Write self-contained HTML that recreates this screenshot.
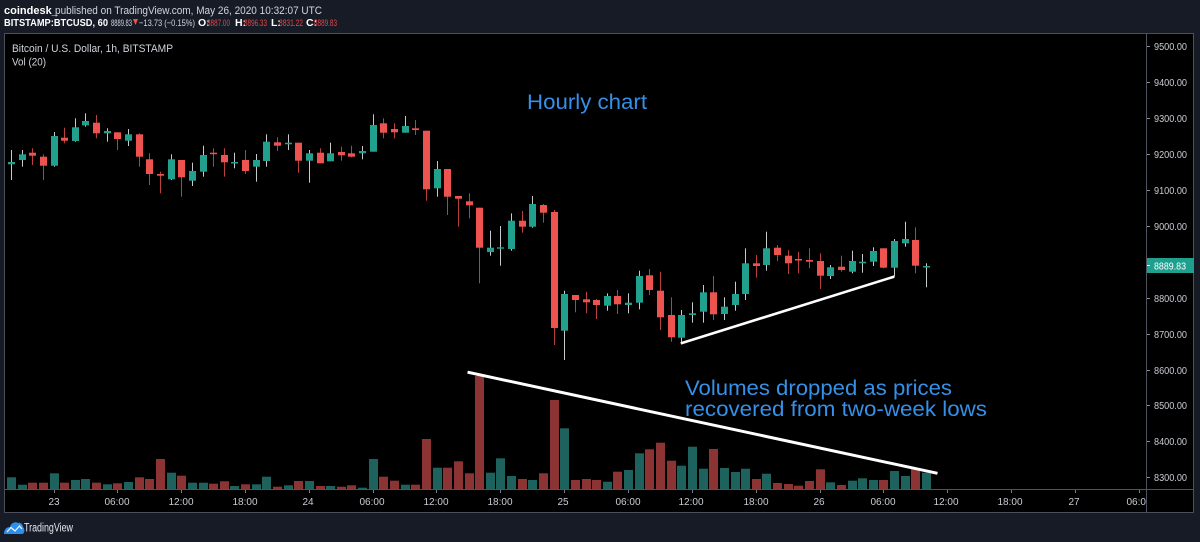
<!DOCTYPE html>
<html><head><meta charset="utf-8"><style>
html,body{margin:0;padding:0;background:#171b26;}
svg{display:block;font-family:"Liberation Sans",Arial,sans-serif;}
.gw{fill:#c4c9c9}.gb{fill:#22a08e}.rw{fill:#b8403e}.rb{fill:#ef5350}
.gv{fill:#1d625c}.rv{fill:#8c3434}
.pl{font-size:10px;fill:#c9ccd3}
.tl{font-size:10px;fill:#c9ccd3;text-anchor:middle}
</style></head><body>
<svg width="1200" height="542" viewBox="0 0 1200 542" xmlns="http://www.w3.org/2000/svg">
<rect width="1200" height="542" fill="#171b26"/>
<!-- header -->
<text x="4" y="14" font-size="11" fill="#d1d4dc"><tspan font-weight="bold" fill="#ffffff">coindesk_</tspan></text>
<text x="55" y="14" font-size="11" fill="#d1d4dc" textLength="267" lengthAdjust="spacingAndGlyphs">published on TradingView.com, May 26, 2020 10:32:07 UTC</text>
<text x="4" y="26" font-size="10.5" font-weight="bold" fill="#ffffff" textLength="104" lengthAdjust="spacingAndGlyphs">BITSTAMP:BTCUSD, 60</text>
<text x="111" y="26" font-size="9.5" fill="#d1d4dc" textLength="21" lengthAdjust="spacingAndGlyphs">8889.83</text>
<polygon points="133,19 138,19 135.5,25" fill="#ef5350"/>
<text x="139" y="26" font-size="9.5" fill="#d1d4dc" textLength="56" lengthAdjust="spacingAndGlyphs">−13.73 (−0.15%)</text>
<text x="198" y="26" font-size="10.5" font-weight="bold" fill="#fff">O:</text>
<text x="207" y="26" font-size="9.5" fill="#e0484a" textLength="23" lengthAdjust="spacingAndGlyphs">8887.00</text>
<text x="235" y="26" font-size="10.5" font-weight="bold" fill="#fff">H:</text>
<text x="244" y="26" font-size="9.5" fill="#e0484a" textLength="23" lengthAdjust="spacingAndGlyphs">8896.33</text>
<text x="271" y="26" font-size="10.5" font-weight="bold" fill="#fff">L:</text>
<text x="279" y="26" font-size="9.5" fill="#e0484a" textLength="24" lengthAdjust="spacingAndGlyphs">8831.22</text>
<text x="306" y="26" font-size="10.5" font-weight="bold" fill="#fff">C:</text>
<text x="314" y="26" font-size="9.5" fill="#e0484a" textLength="23" lengthAdjust="spacingAndGlyphs">8889.83</text>
<!-- chart frame -->
<rect x="4.5" y="33.5" width="1189" height="479" fill="#000" stroke="#4b4f5a"/>
<line x1="1146.5" y1="34" x2="1146.5" y2="512" stroke="#50545e"/>
<line x1="5" y1="489.5" x2="1193" y2="489.5" stroke="#50545e"/>
<text x="12" y="52" font-size="11" fill="#d1d4dc" textLength="161" lengthAdjust="spacingAndGlyphs">Bitcoin / U.S. Dollar, 1h, BITSTAMP</text>
<text x="12" y="65.5" font-size="11" fill="#d1d4dc" textLength="34" lengthAdjust="spacingAndGlyphs">Vol (20)</text>
<!-- price axis -->
<g fill="#8a8e98">
<rect x="1147" y="46" width="3" height="1"/><rect x="1147" y="82" width="3" height="1"/><rect x="1147" y="118" width="3" height="1"/><rect x="1147" y="154" width="3" height="1"/><rect x="1147" y="190" width="3" height="1"/><rect x="1147" y="226" width="3" height="1"/><rect x="1147" y="298" width="3" height="1"/><rect x="1147" y="334" width="3" height="1"/><rect x="1147" y="370" width="3" height="1"/><rect x="1147" y="405" width="3" height="1"/><rect x="1147" y="441" width="3" height="1"/><rect x="1147" y="477" width="3" height="1"/>
</g>
<text class="pl" x="1154" y="50" textLength="33" lengthAdjust="spacingAndGlyphs">9500.00</text>
<text class="pl" x="1154" y="86" textLength="33" lengthAdjust="spacingAndGlyphs">9400.00</text>
<text class="pl" x="1154" y="122" textLength="33" lengthAdjust="spacingAndGlyphs">9300.00</text>
<text class="pl" x="1154" y="158" textLength="33" lengthAdjust="spacingAndGlyphs">9200.00</text>
<text class="pl" x="1154" y="194" textLength="33" lengthAdjust="spacingAndGlyphs">9100.00</text>
<text class="pl" x="1154" y="230" textLength="33" lengthAdjust="spacingAndGlyphs">9000.00</text>
<text class="pl" x="1154" y="302" textLength="33" lengthAdjust="spacingAndGlyphs">8800.00</text>
<text class="pl" x="1154" y="338" textLength="33" lengthAdjust="spacingAndGlyphs">8700.00</text>
<text class="pl" x="1154" y="374" textLength="33" lengthAdjust="spacingAndGlyphs">8600.00</text>
<text class="pl" x="1154" y="409" textLength="33" lengthAdjust="spacingAndGlyphs">8500.00</text>
<text class="pl" x="1154" y="445" textLength="33" lengthAdjust="spacingAndGlyphs">8400.00</text>
<text class="pl" x="1154" y="481" textLength="33" lengthAdjust="spacingAndGlyphs">8300.00</text>
<rect x="1147" y="258" width="47" height="15" fill="#1fa08e"/>
<rect x="1147" y="265" width="3" height="1" fill="#fff"/>
<text x="1154" y="269.5" font-size="10" fill="#ffffff" textLength="32" lengthAdjust="spacingAndGlyphs">8889.83</text>
<!-- time axis -->
<g fill="#777b85">
<rect x="54" y="490" width="1" height="3"/><rect x="117" y="490" width="1" height="3"/><rect x="181" y="490" width="1" height="3"/><rect x="245" y="490" width="1" height="3"/><rect x="309" y="490" width="1" height="3"/><rect x="373" y="490" width="1" height="3"/><rect x="436" y="490" width="1" height="3"/><rect x="500" y="490" width="1" height="3"/><rect x="564" y="490" width="1" height="3"/><rect x="628" y="490" width="1" height="3"/><rect x="692" y="490" width="1" height="3"/><rect x="756" y="490" width="1" height="3"/><rect x="820" y="490" width="1" height="3"/><rect x="883" y="490" width="1" height="3"/><rect x="947" y="490" width="1" height="3"/><rect x="1011" y="490" width="1" height="3"/><rect x="1075" y="490" width="1" height="3"/><rect x="1139" y="490" width="1" height="3"/>
</g>
<text class="tl" x="54" y="505">23</text>
<text class="tl" x="117" y="505">06:00</text>
<text class="tl" x="181" y="505">12:00</text>
<text class="tl" x="245" y="505">18:00</text>
<text class="tl" x="308" y="505">24</text>
<text class="tl" x="372" y="505">06:00</text>
<text class="tl" x="436" y="505">12:00</text>
<text class="tl" x="500" y="505">18:00</text>
<text class="tl" x="563" y="505">25</text>
<text class="tl" x="628" y="505">06:00</text>
<text class="tl" x="691" y="505">12:00</text>
<text class="tl" x="756" y="505">18:00</text>
<text class="tl" x="819" y="505">26</text>
<text class="tl" x="883" y="505">06:00</text>
<text class="tl" x="946" y="505">12:00</text>
<text class="tl" x="1010" y="505">18:00</text>
<text class="tl" x="1074" y="505">27</text>
<svg x="1100" y="490" width="46" height="22"><text class="tl" x="39" y="15">06:00</text></svg>
<!-- volume -->
<g>
<rect class="gv" x="7" y="477.3" width="9" height="11.7"/>
<rect class="gv" x="18" y="484.7" width="9" height="4.3"/>
<rect class="rv" x="28" y="482.7" width="9" height="6.3"/>
<rect class="rv" x="39" y="482.7" width="9" height="6.3"/>
<rect class="gv" x="50" y="473.3" width="9" height="15.7"/>
<rect class="rv" x="60" y="482.7" width="9" height="6.3"/>
<rect class="gv" x="71" y="480" width="9" height="9"/>
<rect class="gv" x="81" y="479" width="9" height="10"/>
<rect class="rv" x="92" y="482.7" width="9" height="6.3"/>
<rect class="gv" x="103" y="484.3" width="9" height="4.7"/>
<rect class="rv" x="113" y="483.3" width="9" height="5.7"/>
<rect class="gv" x="124" y="482" width="9" height="7"/>
<rect class="rv" x="135" y="477.3" width="9" height="11.7"/>
<rect class="rv" x="145" y="479" width="9" height="10"/>
<rect class="rv" x="156" y="459" width="9" height="30"/>
<rect class="gv" x="167" y="472.7" width="9" height="16.3"/>
<rect class="rv" x="177" y="475.7" width="9" height="13.3"/>
<rect class="gv" x="188" y="482.7" width="9" height="6.3"/>
<rect class="gv" x="199" y="482.7" width="9" height="6.3"/>
<rect class="rv" x="209" y="483.7" width="9" height="5.3"/>
<rect class="rv" x="220" y="481.3" width="9" height="7.7"/>
<rect class="gv" x="230" y="486" width="9" height="3"/>
<rect class="rv" x="241" y="484.3" width="9" height="4.7"/>
<rect class="gv" x="252" y="484.3" width="9" height="4.7"/>
<rect class="gv" x="262" y="476.7" width="9" height="12.3"/>
<rect class="rv" x="273" y="486.7" width="9" height="2.3"/>
<rect class="gv" x="284" y="485.3" width="9" height="3.7"/>
<rect class="rv" x="294" y="481" width="9" height="8"/>
<rect class="gv" x="305" y="481" width="9" height="8"/>
<rect class="rv" x="316" y="486" width="9" height="3"/>
<rect class="gv" x="326" y="486" width="9" height="3"/>
<rect class="rv" x="337" y="486.7" width="9" height="2.3"/>
<rect class="rv" x="347" y="485.3" width="9" height="3.7"/>
<rect class="gv" x="358" y="487.7" width="9" height="1.3"/>
<rect class="gv" x="369" y="459" width="9" height="30"/>
<rect class="rv" x="379" y="476.7" width="9" height="12.3"/>
<rect class="rv" x="390" y="480.7" width="9" height="8.3"/>
<rect class="gv" x="401" y="484.7" width="9" height="4.3"/>
<rect class="rv" x="411" y="484.7" width="9" height="4.3"/>
<rect class="rv" x="422" y="439" width="9" height="50"/>
<rect class="gv" x="433" y="467.7" width="9" height="21.3"/>
<rect class="rv" x="443" y="467.7" width="9" height="21.3"/>
<rect class="rv" x="454" y="461.3" width="9" height="27.7"/>
<rect class="rv" x="465" y="473.3" width="9" height="15.7"/>
<rect class="rv" x="475" y="376" width="9" height="113"/>
<rect class="gv" x="486" y="472.7" width="9" height="16.3"/>
<rect class="gv" x="496" y="458.3" width="9" height="30.7"/>
<rect class="gv" x="507" y="476" width="9" height="13"/>
<rect class="rv" x="518" y="479" width="9" height="10"/>
<rect class="gv" x="528" y="480" width="9" height="9"/>
<rect class="rv" x="539" y="473.3" width="9" height="15.7"/>
<rect class="rv" x="550" y="400" width="9" height="89"/>
<rect class="gv" x="560" y="428.3" width="9" height="60.7"/>
<rect class="rv" x="571" y="480" width="9" height="9"/>
<rect class="rv" x="582" y="479" width="9" height="10"/>
<rect class="rv" x="592" y="480" width="9" height="9"/>
<rect class="gv" x="603" y="481.7" width="9" height="7.3"/>
<rect class="rv" x="613" y="471.7" width="9" height="17.3"/>
<rect class="gv" x="624" y="470" width="9" height="19"/>
<rect class="gv" x="635" y="453.3" width="9" height="35.7"/>
<rect class="rv" x="645" y="449.3" width="9" height="39.7"/>
<rect class="rv" x="656" y="442.7" width="9" height="46.3"/>
<rect class="rv" x="667" y="460.7" width="9" height="28.3"/>
<rect class="gv" x="677" y="465.7" width="9" height="23.3"/>
<rect class="gv" x="688" y="446.7" width="9" height="42.3"/>
<rect class="gv" x="699" y="468.7" width="9" height="20.3"/>
<rect class="rv" x="709" y="449" width="9" height="40"/>
<rect class="gv" x="720" y="468" width="9" height="21"/>
<rect class="gv" x="731" y="472" width="9" height="17"/>
<rect class="gv" x="741" y="468.7" width="9" height="20.3"/>
<rect class="rv" x="752" y="479" width="9" height="10"/>
<rect class="gv" x="762" y="473.7" width="9" height="15.3"/>
<rect class="rv" x="773" y="483" width="9" height="6"/>
<rect class="rv" x="784" y="484" width="9" height="5"/>
<rect class="rv" x="794" y="485.7" width="9" height="3.3"/>
<rect class="rv" x="805" y="481" width="9" height="8"/>
<rect class="rv" x="816" y="469.3" width="9" height="19.7"/>
<rect class="gv" x="826" y="482.3" width="9" height="6.7"/>
<rect class="rv" x="837" y="485" width="9" height="4"/>
<rect class="gv" x="848" y="480.7" width="9" height="8.3"/>
<rect class="gv" x="858" y="478.3" width="9" height="10.7"/>
<rect class="gv" x="869" y="480" width="9" height="9"/>
<rect class="rv" x="879" y="480" width="9" height="9"/>
<rect class="gv" x="890" y="471" width="9" height="18"/>
<rect class="gv" x="901" y="476" width="9" height="13"/>
<rect class="rv" x="911" y="469" width="9" height="20"/>
<rect class="gv" x="922" y="472.7" width="9" height="16.3"/>
</g>
<!-- candles -->
<g>
<rect class="gw" x="11" y="150" width="1" height="30"/><rect class="gb" x="8" y="162" width="7" height="2.3"/>
<rect class="gw" x="22" y="150" width="1" height="16.7"/><rect class="gb" x="19" y="154.3" width="7" height="5.7"/>
<rect class="rw" x="32" y="148.3" width="1" height="16.7"/><rect class="rb" x="29" y="152.7" width="7" height="3"/>
<rect class="rw" x="43" y="154.3" width="1" height="25.7"/><rect class="rb" x="40" y="156.7" width="7" height="9"/>
<rect class="gw" x="54" y="132" width="1" height="34.7"/><rect class="gb" x="51" y="136" width="7" height="29.7"/>
<rect class="rw" x="64" y="127.7" width="1" height="15.6"/><rect class="rb" x="61" y="137.7" width="7" height="3"/>
<rect class="gw" x="75" y="118.3" width="1" height="23.4"/><rect class="gb" x="72" y="127.3" width="7" height="13.7"/>
<rect class="gw" x="85" y="113.3" width="1" height="13.4"/><rect class="gb" x="82" y="121" width="7" height="4.3"/>
<rect class="rw" x="96" y="115" width="1" height="23.3"/><rect class="rb" x="93" y="122.7" width="7" height="10.6"/>
<rect class="gw" x="107" y="128.3" width="1" height="13.4"/><rect class="gb" x="104" y="131" width="7" height="2.3"/>
<rect class="rw" x="117" y="132.3" width="1" height="17.7"/><rect class="rb" x="114" y="132.3" width="7" height="6.7"/>
<rect class="gw" x="128" y="129" width="1" height="17"/><rect class="gb" x="125" y="134.3" width="7" height="6.4"/>
<rect class="rw" x="139" y="133.3" width="1" height="33.4"/><rect class="rb" x="136" y="134.3" width="7" height="22.4"/>
<rect class="rw" x="149" y="153.3" width="1" height="31.7"/><rect class="rb" x="146" y="159.3" width="7" height="14.7"/>
<rect class="rw" x="160" y="171.7" width="1" height="21.6"/><rect class="rb" x="157" y="174" width="7" height="1.7"/>
<rect class="gw" x="171" y="154.3" width="1" height="25.7"/><rect class="gb" x="168" y="159.3" width="7" height="20"/>
<rect class="rw" x="181" y="160" width="1" height="36.7"/><rect class="rb" x="178" y="160" width="7" height="17.3"/>
<rect class="gw" x="192" y="162.7" width="1" height="23.3"/><rect class="gb" x="189" y="171" width="7" height="9.7"/>
<rect class="gw" x="203" y="145.7" width="1" height="31"/><rect class="gb" x="200" y="155" width="7" height="16.7"/>
<rect class="rw" x="213" y="148.3" width="1" height="18.4"/><rect class="rb" x="210" y="152.7" width="7" height="1.5"/>
<rect class="rw" x="224" y="148.3" width="1" height="28.4"/><rect class="rb" x="221" y="155" width="7" height="7.3"/>
<rect class="gw" x="234" y="152.7" width="1" height="15.6"/><rect class="gb" x="231" y="162" width="7" height="1.5"/>
<rect class="rw" x="245" y="150" width="1" height="24"/><rect class="rb" x="242" y="160" width="7" height="11"/>
<rect class="gw" x="256" y="154" width="1" height="27.7"/><rect class="gb" x="253" y="160" width="7" height="6.7"/>
<rect class="gw" x="266" y="134.3" width="1" height="32.4"/><rect class="gb" x="263" y="141.7" width="7" height="19.3"/>
<rect class="rw" x="277" y="137.3" width="1" height="13.7"/><rect class="rb" x="274" y="142.3" width="7" height="3.4"/>
<rect class="gw" x="288" y="134.3" width="1" height="15.7"/><rect class="gb" x="285" y="142.7" width="7" height="1.6"/>
<rect class="rw" x="298" y="142.7" width="1" height="30"/><rect class="rb" x="295" y="142.7" width="7" height="18"/>
<rect class="gw" x="309" y="150" width="1" height="32.7"/><rect class="gb" x="306" y="153.3" width="7" height="7.4"/>
<rect class="rw" x="320" y="148.3" width="1" height="15"/><rect class="rb" x="317" y="152.7" width="7" height="10.6"/>
<rect class="gw" x="330" y="142.7" width="1" height="18.6"/><rect class="gb" x="327" y="153.3" width="7" height="8"/>
<rect class="rw" x="341" y="146.7" width="1" height="14"/><rect class="rb" x="338" y="152" width="7" height="3.3"/>
<rect class="rw" x="351" y="145.7" width="1" height="11.6"/><rect class="rb" x="348" y="153.3" width="7" height="3.4"/>
<rect class="gw" x="362" y="146" width="1" height="13.3"/><rect class="gb" x="359" y="151" width="7" height="2.3"/>
<rect class="gw" x="373" y="114.3" width="1" height="37.4"/><rect class="gb" x="370" y="125" width="7" height="26.7"/>
<rect class="rw" x="383" y="118.3" width="1" height="20"/><rect class="rb" x="380" y="123.3" width="7" height="9.4"/>
<rect class="rw" x="394" y="123.3" width="1" height="15"/><rect class="rb" x="391" y="129" width="7" height="3.3"/>
<rect class="gw" x="405" y="116" width="1" height="16.7"/><rect class="gb" x="402" y="126" width="7" height="6.7"/>
<rect class="rw" x="415" y="120" width="1" height="15"/><rect class="rb" x="412" y="128.3" width="7" height="1.7"/>
<rect class="rw" x="426" y="130.7" width="1" height="70"/><rect class="rb" x="423" y="130.7" width="7" height="58.6"/>
<rect class="gw" x="437" y="161" width="1" height="35.7"/><rect class="gb" x="434" y="169" width="7" height="19.3"/>
<rect class="rw" x="447" y="169" width="1" height="46"/><rect class="rb" x="444" y="169" width="7" height="27.7"/>
<rect class="rw" x="458" y="196" width="1" height="30.7"/><rect class="rb" x="455" y="196" width="7" height="2.7"/>
<rect class="rw" x="469" y="193.3" width="1" height="25"/><rect class="rb" x="466" y="201.3" width="7" height="4"/>
<rect class="rw" x="479" y="207.7" width="1" height="75.6"/><rect class="rb" x="476" y="207.7" width="7" height="40"/>
<rect class="gw" x="490" y="230.7" width="1" height="25"/><rect class="gb" x="487" y="247.7" width="7" height="4.3"/>
<rect class="gw" x="500" y="226" width="1" height="39.7"/><rect class="gb" x="497" y="247.3" width="7" height="1.4"/>
<rect class="gw" x="511" y="213.3" width="1" height="37.4"/><rect class="gb" x="508" y="220.7" width="7" height="28.3"/>
<rect class="rw" x="522" y="211" width="1" height="21.7"/><rect class="rb" x="519" y="220.7" width="7" height="6"/>
<rect class="gw" x="532" y="196" width="1" height="31.7"/><rect class="gb" x="529" y="204" width="7" height="22.7"/>
<rect class="rw" x="543" y="204" width="1" height="18.7"/><rect class="rb" x="540" y="205" width="7" height="7.7"/>
<rect class="rw" x="554" y="210" width="1" height="135"/><rect class="rb" x="551" y="212" width="7" height="116"/>
<rect class="gw" x="564" y="290.7" width="1" height="69.3"/><rect class="gb" x="561" y="294" width="7" height="36.7"/>
<rect class="rw" x="575" y="295" width="1" height="17.3"/><rect class="rb" x="572" y="295" width="7" height="5"/>
<rect class="rw" x="586" y="291.7" width="1" height="21.6"/><rect class="rb" x="583" y="299.3" width="7" height="3"/>
<rect class="rw" x="596" y="299" width="1" height="20"/><rect class="rb" x="593" y="300" width="7" height="5"/>
<rect class="gw" x="607" y="293.3" width="1" height="17.4"/><rect class="gb" x="604" y="296" width="7" height="9.7"/>
<rect class="rw" x="617" y="290" width="1" height="24"/><rect class="rb" x="614" y="296" width="7" height="8.3"/>
<rect class="gw" x="628" y="293.3" width="1" height="20"/><rect class="gb" x="625" y="302.7" width="7" height="2.3"/>
<rect class="gw" x="639" y="270.7" width="1" height="38.6"/><rect class="gb" x="636" y="276" width="7" height="26.7"/>
<rect class="rw" x="649" y="269" width="1" height="26"/><rect class="rb" x="646" y="275.3" width="7" height="14.7"/>
<rect class="rw" x="660" y="271.7" width="1" height="58.3"/><rect class="rb" x="657" y="290.7" width="7" height="26.6"/>
<rect class="rw" x="671" y="297.3" width="1" height="44.4"/><rect class="rb" x="668" y="315" width="7" height="22.3"/>
<rect class="gw" x="681" y="310" width="1" height="33.3"/><rect class="gb" x="678" y="315" width="7" height="22.7"/>
<rect class="gw" x="692" y="302.3" width="1" height="20.4"/><rect class="gb" x="689" y="313.3" width="7" height="1.7"/>
<rect class="gw" x="703" y="285" width="1" height="37.7"/><rect class="gb" x="700" y="292.3" width="7" height="19.4"/>
<rect class="rw" x="713" y="276" width="1" height="44"/><rect class="rb" x="710" y="292.3" width="7" height="22"/>
<rect class="gw" x="724" y="297.3" width="1" height="22.7"/><rect class="gb" x="721" y="306.7" width="7" height="7.3"/>
<rect class="gw" x="735" y="281.7" width="1" height="29"/><rect class="gb" x="732" y="294" width="7" height="11"/>
<rect class="gw" x="745" y="248.3" width="1" height="51.7"/><rect class="gb" x="742" y="263.3" width="7" height="30.7"/>
<rect class="rw" x="756" y="255" width="1" height="22.7"/><rect class="rb" x="753" y="263.3" width="7" height="2.7"/>
<rect class="gw" x="766" y="231.7" width="1" height="39"/><rect class="gb" x="763" y="248.3" width="7" height="16.7"/>
<rect class="rw" x="777" y="245" width="1" height="16"/><rect class="rb" x="774" y="247.7" width="7" height="7.3"/>
<rect class="rw" x="788" y="250" width="1" height="24"/><rect class="rb" x="785" y="255.7" width="7" height="7.6"/>
<rect class="rw" x="798" y="251.7" width="1" height="21.6"/><rect class="rb" x="795" y="259" width="7" height="1.5"/>
<rect class="rw" x="809" y="248.3" width="1" height="20"/><rect class="rb" x="806" y="260" width="7" height="1.7"/>
<rect class="rw" x="820" y="253.3" width="1" height="35.7"/><rect class="rb" x="817" y="261" width="7" height="14.7"/>
<rect class="gw" x="830" y="265" width="1" height="14"/><rect class="gb" x="827" y="267.3" width="7" height="8.7"/>
<rect class="rw" x="841" y="255.7" width="1" height="16"/><rect class="rb" x="838" y="266.7" width="7" height="3.3"/>
<rect class="gw" x="852" y="250.7" width="1" height="22.6"/><rect class="gb" x="849" y="261" width="7" height="10.7"/>
<rect class="gw" x="862" y="254" width="1" height="18.7"/><rect class="gb" x="859" y="261.7" width="7" height="1.6"/>
<rect class="gw" x="873" y="247.3" width="1" height="18.7"/><rect class="gb" x="870" y="251" width="7" height="10.7"/>
<rect class="rw" x="883" y="248.3" width="1" height="20"/><rect class="rb" x="880" y="248.3" width="7" height="19.4"/>
<rect class="gw" x="894" y="239" width="1" height="37.7"/><rect class="gb" x="891" y="241" width="7" height="26.7"/>
<rect class="gw" x="905" y="221.7" width="1" height="25"/><rect class="gb" x="902" y="239" width="7" height="4.3"/>
<rect class="rw" x="915" y="227.3" width="1" height="46"/><rect class="rb" x="912" y="240" width="7" height="25.7"/>
<rect class="gw" x="926" y="263.3" width="1" height="24"/><rect class="gb" x="923" y="266" width="7" height="1.5"/>
</g>
<!-- trend lines -->
<line x1="682" y1="343" x2="893" y2="277" stroke="#ffffff" stroke-width="2.6" stroke-linecap="square"/>
<line x1="469" y1="372.5" x2="936" y2="473" stroke="#ffffff" stroke-width="3" stroke-linecap="square"/>
<!-- annotations -->
<text x="527" y="109" font-size="21" fill="#3490e8" textLength="120" lengthAdjust="spacingAndGlyphs">Hourly chart</text>
<text x="685" y="395" font-size="21.5" fill="#3490e8" textLength="267" lengthAdjust="spacingAndGlyphs">Volumes dropped as prices</text>
<text x="685" y="416" font-size="21.5" fill="#3490e8" textLength="302" lengthAdjust="spacingAndGlyphs">recovered from two-week lows</text>
<!-- footer logo -->
<path d="M4,534 C4,529 7,527 10,527 C11,523 15,521 18,523 C20,522 23,524 23,527 C25,528 25,534 22,534 Z" fill="#2b8ff0"/>
<path d="M7,532 L11,527.5 L15,531 L19.5,526 L22,529" fill="none" stroke="#e8f2ff" stroke-width="1.3"/>
<text x="24" y="531.5" font-size="11.5" fill="#e6e8ee" textLength="49" lengthAdjust="spacingAndGlyphs">TradingView</text>
</svg>
</body></html>
